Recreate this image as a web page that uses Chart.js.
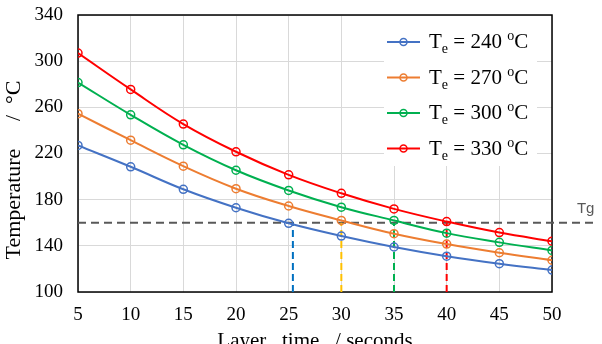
<!DOCTYPE html>
<html>
<head>
<meta charset="utf-8">
<script src="https://cdn.jsdelivr.net/npm/chart.js@4"></script>
<style>
  html, body { margin: 0; padding: 0; background: #fff; }
  canvas { display: block; }
</style>
</head>
<body>
<canvas id="chart" width="602" height="344"></canvas>
<script>
// --- Data ---
const layerTime = [5, 10, 15, 20, 25, 30, 35, 40, 45, 50];
const te240 = [227, 208.5, 189, 173, 159.5, 148.5, 139, 131, 124.5, 119];
const te270 = [254.5, 231.5, 209, 189.5, 174.5, 162, 150.5, 141.5, 134, 127.5];
const te300 = [281.5, 253.5, 227.5, 205.5, 188, 173.5, 162, 151, 143, 136];
const te330 = [307, 275.5, 245.5, 221.5, 201.5, 185.5, 172, 161, 151.5, 144];
const extrusionTemps = [240, 270, 300, 330];

const tg = 160;
const tgLineEnds = [5, 53.9];
const crossTimes = [25.4, 30, 35, 40];

const seriesColors = ['#4472C4', '#ED7D31', '#00B050', '#FF0000'];
const dropColors = ['#0070C0', '#FFC000', '#00B050', '#FF0000'];

const serif = "'Liberation Serif', 'Times New Roman', serif";

const toPoints = (ys) => layerTime.map((x, i) => ({ x: x, y: ys[i] }));

const curveSets = [te240, te270, te300, te330].map((ys, i) => ({
    label: `Te = ${extrusionTemps[i]} oC`,
    data: toPoints(ys),
    borderColor: seriesColors[i],
    borderWidth: 2,
    tension: 0.4,
    pointRadius: 4,
    pointBorderWidth: 1.5,
    pointBackgroundColor: 'rgba(0,0,0,0)',
    pointBorderColor: seriesColors[i],
    order: 1
}));

const dropSets = crossTimes.map((t, i) => ({
    label: 'drop' + i,
    data: [{ x: t, y: 100 }, { x: t, y: tg }],
    borderColor: dropColors[i],
    borderWidth: 2,
    borderDash: [7, 4],
    pointRadius: 0,
    order: 2
}));

const tgSet = {
    label: 'Tg',
    data: tgLineEnds.map(x => ({ x: x, y: tg })),
    borderColor: '#595959',
    borderWidth: 2,
    borderDash: [8, 5],
    pointRadius: 0,
    clip: false,
    order: 3
};

// plot frame drawn under the marks
const frame = {
    id: 'frame',
    beforeDatasetsDraw(chart) {
        const { ctx, chartArea: a } = chart;
        ctx.save();
        ctx.strokeStyle = '#000';
        ctx.lineWidth = 1.5;
        ctx.strokeRect(a.left, a.top, a.right - a.left, a.bottom - a.top);
        ctx.restore();
    }
};

// legend with subscript / superscript text, plus the Tg label
const legendBox = {
    id: 'legendBox',
    afterDatasetsDraw(chart) {
        const { ctx, chartArea: a, scales } = chart;
        ctx.save();

        const boxLeft = a.right - 168, boxTop = a.top + 1;
        ctx.fillStyle = '#fff';
        ctx.fillRect(boxLeft, boxTop, 153, 150);

        const rowGap = 35.5;
        extrusionTemps.forEach((t, i) => {
            const cy = a.top + 27 + i * rowGap;
            const col = seriesColors[i];
            ctx.strokeStyle = col;
            ctx.lineWidth = 2;
            ctx.beginPath();
            ctx.moveTo(a.right - 165, cy);
            ctx.lineTo(a.right - 132, cy);
            ctx.stroke();
            ctx.lineWidth = 1.5;
            ctx.beginPath();
            ctx.arc(a.right - 148.5, cy, 3.5, 0, Math.PI * 2);
            ctx.stroke();

            ctx.fillStyle = '#000';
            ctx.textBaseline = 'alphabetic';
            ctx.textAlign = 'left';
            const base = cy + 6;
            let x = a.right - 123;
            ctx.font = `21px ${serif}`;
            ctx.fillText('T', x, base);
            x += ctx.measureText('T').width;
            ctx.font = `14px ${serif}`;
            ctx.fillText('e', x, base + 5);
            x += ctx.measureText('e').width;
            ctx.font = `21px ${serif}`;
            const mid = ` = ${t} `;
            ctx.fillText(mid, x, base);
            x += ctx.measureText(mid).width;
            ctx.font = `14px ${serif}`;
            ctx.fillText('o', x, base - 8);
            x += ctx.measureText('o').width;
            ctx.font = `21px ${serif}`;
            ctx.fillText('C', x, base);
        });

        ctx.fillStyle = '#595959';
        ctx.font = "15px 'Liberation Sans', Arial, sans-serif";
        ctx.textAlign = 'center';
        ctx.fillText('Tg', scales.x.getPixelForValue(53.2), scales.y.getPixelForValue(tg) - 10);
        ctx.restore();
    }
};

new Chart(document.getElementById('chart').getContext('2d'), {
    type: 'line',
    data: { datasets: [...curveSets, ...dropSets, tgSet] },
    options: {
        responsive: false,
        animation: false,
        layout: { padding: { top: 15, right: 50, left: 0, bottom: 0 } },
        plugins: { legend: { display: false }, tooltip: { enabled: false } },
        scales: {
            x: {
                type: 'linear',
                min: 5,
                max: 50,
                afterFit: (s) => { s.height = 52; },
                ticks: { stepSize: 5, padding: 12, color: '#000', font: { family: serif, size: 19 } },
                grid: { color: '#d9d9d9', lineWidth: 1, drawTicks: false },
                border: { display: false },
                title: {
                    display: true,
                    text: 'Layer   time   / seconds',
                    color: '#000',
                    font: { family: serif, size: 21 },
                    padding: { top: 0, bottom: -10 }
                }
            },
            y: {
                min: 100,
                max: 340,
                afterFit: (s) => { s.width = 78; },
                ticks: { stepSize: 40, padding: 2, color: '#000', font: { family: serif, size: 19 } },
                grid: { color: '#d9d9d9', lineWidth: 1, drawTicks: true, tickLength: 13, tickColor: 'rgba(0,0,0,0)' },
                border: { display: false },
                title: {
                    display: true,
                    text: 'Temperature     /  \u00B0C      ',
                    color: '#000',
                    font: { family: serif, size: 22 },
                    padding: { top: 1, bottom: 0 }
                }
            }
        }
    },
    plugins: [frame, legendBox]
});
</script>
</body>
</html>
